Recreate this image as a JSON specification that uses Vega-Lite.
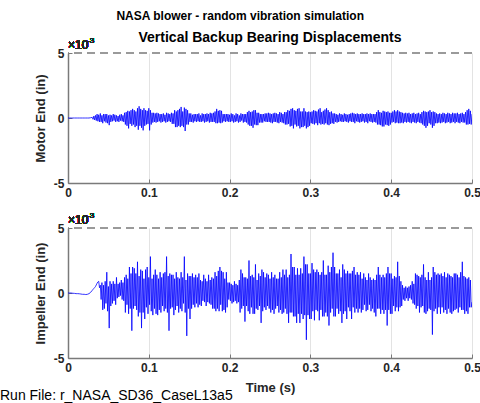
{
"$schema":"https://vega.github.io/schema/vega-lite/v6.json",
"data":{"values":"t,m,i\n0,0,0\n0.002,0,0\n0.004,0,0\n0.006,0,-0.02\n0.008,0,-0.03\n0.010,0,-0.05\n0.012,0,-0.05\n0.014,0,-0.06\n0.016,0,-0.08\n0.018,0,-0.1\n0.020,0,-0.1\n0.022,0,-0.12\n0.024,0,-0.1\n0.026,0,-0.05\n0.028,0.02,0.05\n0.030,0.05,0.2\n0.031,-0.1,0.28\n0.032,0.15,0.35\n0.033,-0.15,0.42\n0.034,0.2,0.5\n0.035,-0.2,0.62\n0.036,0.3,0.75\n0.037,-0.25,0.85\n0.038,0.25,0.9\n0.039,-0.3,0.4\n0.040,0.35,0.6\n0.041,-0.3,-0.5\n0.042,0.2,0.8\n0.043,-0.4,-1.3\n0.044,0.3,0.6\n0.045,-0.25,-1.2\n0.046,0.3,0.9\n0.047,-0.35,-0.8\n0.048,0.3,1.6\n0.049,-0.4,-1.4\n0.050,0.2,0.5\n0.051,-0.55,-2.7\n0.052,0.25,0.9\n0.053,-0.3,-1.0\n0.054,0.2,0.7\n0.055,-0.25,-0.8\n0.056,0.3,0.9\n0.057,-0.2,-0.6\n0.058,0.25,0.7\n0.059,-0.3,-0.9\n0.060,0.2,1.2\n0.061,-0.25,-0.4\n0.062,0.15,0.7\n0.063,-0.3,-0.3\n0.064,0.25,0.8\n0.065,-0.2,-0.2\n0.066,0.3,1.0\n0.067,-0.25,-0.5\n0.068,0.2,0.8\n0.069,-0.3,-0.6\n0.070,0.4,1.2\n0.071,-0.5,-1.5\n0.072,0.45,1.4\n0.073,-0.6,-0.9\n0.074,0.55,1.1\n0.075,-0.8,-1.6\n0.076,0.5,2.0\n0.077,-0.45,-1.2\n0.078,0.6,1.5\n0.079,-0.6,-2.9\n0.080,0.7,2.0\n0.081,-0.5,-1.2\n0.082,0.6,1.9\n0.083,-0.7,-1.0\n0.084,0.5,1.5\n0.085,-0.6,-1.3\n0.086,0.75,2.4\n0.087,-0.9,-1.8\n0.088,0.9,1.3\n0.089,-0.6,-1.5\n0.090,0.7,1.8\n0.091,-0.75,-2.7\n0.092,0.6,1.7\n0.093,-0.95,-1.5\n0.094,0.75,1.1\n0.095,-0.6,-2.0\n0.096,0.6,1.8\n0.097,-0.5,-1.1\n0.098,0.55,2.0\n0.099,-0.45,-1.6\n0.100,0.75,1.2\n0.101,-0.95,-0.9\n0.102,0.6,2.8\n0.103,-0.5,-1.4\n0.104,0.4,1.1\n0.105,-0.35,-1.7\n0.106,0.4,1.4\n0.107,-0.3,-1.2\n0.108,0.35,1.8\n0.109,-0.35,-1.6\n0.110,0.4,1.4\n0.111,-0.3,-1.7\n0.112,0.35,1.1\n0.113,-0.25,-1.3\n0.114,0.3,1.6\n0.115,-0.35,-1.5\n0.116,0.3,1.2\n0.117,-0.3,-1.0\n0.118,0.35,1.5\n0.119,-0.25,-1.4\n0.120,0.25,1.6\n0.121,-0.35,-1.2\n0.122,0.4,2.8\n0.123,-0.3,-1.5\n0.124,0.35,1.3\n0.125,-0.25,-2.9\n0.126,0.3,1.5\n0.127,-0.3,-1.2\n0.128,0.4,1.4\n0.129,-0.45,-1.1\n0.130,0.35,1.4\n0.131,-0.45,-1.7\n0.132,0.6,1.1\n0.133,-0.7,-1.3\n0.134,0.5,1.6\n0.135,-0.7,-1.0\n0.136,0.6,1.2\n0.137,-0.6,-1.5\n0.138,0.7,1.1\n0.139,-0.7,-1.2\n0.140,0.85,1.6\n0.141,-0.6,-1.4\n0.142,0.5,1.2\n0.143,-0.7,-0.8\n0.144,0.8,2.8\n0.145,-1.0,-1.5\n0.146,0.7,1.0\n0.147,-0.5,-3.3\n0.148,0.6,1.5\n0.149,-0.5,-1.2\n0.150,0.35,1.3\n0.151,-0.3,-2.0\n0.152,0.35,1.3\n0.153,-0.3,-1.2\n0.154,0.25,1.5\n0.155,-0.35,-0.9\n0.156,0.3,1.2\n0.157,-0.25,-1.1\n0.158,0.3,1.4\n0.159,-0.3,-0.8\n0.160,0.3,1.2\n0.161,-0.25,-1.1\n0.162,0.35,1.5\n0.163,-0.3,-0.9\n0.164,0.2,1.0\n0.165,-0.3,-1.0\n0.166,0.35,0.9\n0.167,-0.25,-0.6\n0.168,0.3,1.4\n0.169,-0.35,-0.7\n0.170,0.3,1.1\n0.171,-0.3,-1.0\n0.172,0.35,0.9\n0.173,-0.25,-0.7\n0.174,0.3,1.4\n0.175,-0.35,-0.8\n0.176,0.4,1.0\n0.177,-0.3,-0.9\n0.178,0.35,1.2\n0.179,-0.3,-1.2\n0.180,0.4,1.1\n0.181,-0.3,-1.2\n0.182,0.5,1.6\n0.183,-0.4,-1.4\n0.184,0.7,1.3\n0.185,-0.4,-1.2\n0.186,0.55,1.7\n0.187,-0.35,-1.4\n0.188,0.6,2.0\n0.189,-0.4,-0.9\n0.190,0.55,1.7\n0.191,-0.35,-1.4\n0.192,0.3,1.6\n0.193,-0.25,-1.3\n0.194,0.3,1.1\n0.195,-0.3,-1.5\n0.196,0.3,1.6\n0.197,-0.25,-1.1\n0.198,0.3,0.8\n0.199,-0.3,-0.5\n0.200,0.25,0.8\n0.201,-0.3,-0.6\n0.202,0.35,0.7\n0.203,-0.25,-0.8\n0.204,0.3,0.6\n0.205,-0.35,-0.7\n0.206,0.2,0.9\n0.207,-0.3,-0.6\n0.208,0.35,0.7\n0.209,-0.25,-0.8\n0.210,0.3,0.6\n0.211,-0.35,-0.7\n0.212,0.2,1.0\n0.213,-0.3,-1.5\n0.214,0.35,1.8\n0.215,-0.2,-1.2\n0.216,0.3,1.5\n0.217,-0.35,-1.0\n0.218,0.3,1.2\n0.219,-0.3,-2.2\n0.220,0.3,1.2\n0.221,-0.35,-1.0\n0.222,0.45,1.1\n0.223,-0.5,-1.4\n0.224,0.55,2.5\n0.225,-0.6,-1.6\n0.226,0.45,1.3\n0.227,-0.6,-1.1\n0.228,0.5,1.4\n0.229,-0.75,-1.6\n0.230,0.6,1.2\n0.231,-0.5,-1.6\n0.232,0.6,2.2\n0.233,-0.55,-1.2\n0.234,0.4,1.0\n0.235,-0.55,-1.3\n0.236,0.4,1.5\n0.237,-0.35,-1.0\n0.238,0.3,1.3\n0.239,-0.35,-2.3\n0.240,0.3,1.8\n0.241,-0.35,-1.4\n0.242,0.3,1.6\n0.243,-0.25,-1.1\n0.244,0.35,1.2\n0.245,-0.3,-1.3\n0.246,0.35,1.5\n0.247,-0.3,-1.0\n0.248,0.4,1.4\n0.249,-0.3,-1.2\n0.250,0.35,1.1\n0.251,-0.35,-1.5\n0.252,0.3,1.6\n0.253,-0.4,-1.3\n0.254,0.35,1.2\n0.255,-0.3,-1.6\n0.256,0.4,1.4\n0.257,-0.3,-1.2\n0.258,0.35,1.1\n0.259,-0.35,-1.0\n0.260,0.3,1.1\n0.261,-0.4,-1.5\n0.262,0.45,1.6\n0.263,-0.3,-1.3\n0.264,0.4,1.2\n0.265,-0.35,-1.6\n0.266,0.3,1.8\n0.267,-0.4,-1.5\n0.268,0.45,1.4\n0.269,-0.5,-1.2\n0.270,0.45,1.8\n0.271,-0.5,-1.6\n0.272,0.6,1.2\n0.273,-0.45,-2.3\n0.274,0.55,1.4\n0.275,-0.65,-1.5\n0.276,0.7,3.0\n0.277,-0.6,-1.5\n0.278,0.75,2.0\n0.279,-0.8,-1.8\n0.280,0.6,2.0\n0.281,-0.5,-1.8\n0.282,0.55,1.4\n0.283,-0.65,-2.3\n0.284,0.7,1.9\n0.285,-0.6,-1.6\n0.286,0.75,1.4\n0.287,-0.8,-2.3\n0.288,0.5,1.9\n0.289,-0.7,-1.6\n0.290,0.5,1.5\n0.291,-0.7,-2.0\n0.292,0.75,2.8\n0.293,-0.6,-1.7\n0.294,0.5,2.2\n0.295,-0.8,-3.6\n0.296,0.45,2.2\n0.297,-0.7,-1.7\n0.298,0.5,1.5\n0.299,-0.6,-2.0\n0.300,0.45,1.5\n0.301,-0.4,-2.0\n0.302,0.5,2.3\n0.303,-0.45,-1.4\n0.304,0.6,1.8\n0.305,-0.5,-2.1\n0.306,0.55,1.6\n0.307,-0.4,-1.3\n0.308,0.5,1.8\n0.309,-0.55,-1.4\n0.310,0.65,1.6\n0.311,-0.4,-2.1\n0.312,0.75,1.4\n0.313,-0.5,-1.3\n0.314,0.45,1.6\n0.315,-0.45,-1.8\n0.316,0.55,2.5\n0.317,-0.5,-1.8\n0.318,0.65,1.4\n0.319,-0.4,-1.5\n0.320,0.75,1.4\n0.321,-0.5,-1.8\n0.322,0.6,2.1\n0.323,-0.55,-2.5\n0.324,0.45,1.6\n0.325,-0.45,-1.5\n0.326,0.5,2.0\n0.327,-0.4,-1.2\n0.328,0.35,3.1\n0.329,-0.45,-1.8\n0.330,0.35,2.0\n0.331,-0.3,-1.8\n0.332,0.3,1.5\n0.333,-0.35,-1.2\n0.334,0.25,1.5\n0.335,-0.3,-1.6\n0.336,0.35,1.8\n0.337,-0.25,-1.4\n0.338,0.3,1.2\n0.339,-0.3,-2.3\n0.340,0.25,2.2\n0.341,-0.3,-1.6\n0.342,0.35,1.8\n0.343,-0.25,-1.4\n0.344,0.3,1.5\n0.345,-0.3,-2.0\n0.346,0.25,1.7\n0.347,-0.35,-1.1\n0.348,0.3,1.5\n0.349,-0.25,-1.4\n0.350,0.35,1.5\n0.351,-0.3,-2.0\n0.352,0.4,1.7\n0.353,-0.3,-1.1\n0.354,0.35,2.0\n0.355,-0.4,-1.5\n0.356,0.3,1.4\n0.357,-0.25,-1.2\n0.358,0.35,1.6\n0.359,-0.3,-1.5\n0.360,0.3,1.4\n0.361,-0.35,-1.2\n0.362,0.3,1.6\n0.363,-0.3,-1.5\n0.364,0.35,1.1\n0.365,-0.25,-1.3\n0.366,0.3,1.5\n0.367,-0.35,-0.9\n0.368,0.3,1.2\n0.369,-0.3,-1.4\n0.370,0.35,1.0\n0.371,-0.4,-1.3\n0.372,0.3,1.5\n0.373,-0.25,-0.9\n0.374,0.35,1.2\n0.375,-0.3,-1.4\n0.376,0.3,1.0\n0.377,-0.35,-1.2\n0.378,0.3,1.1\n0.379,-0.3,-1.5\n0.380,0.3,1.0\n0.381,-0.35,-1.8\n0.382,0.45,1.4\n0.383,-0.5,-1.2\n0.384,0.6,2.0\n0.385,-0.5,-1.2\n0.386,0.45,1.4\n0.387,-0.55,-1.6\n0.388,0.4,1.2\n0.389,-0.65,-1.3\n0.390,0.55,1.4\n0.391,-0.65,-1.6\n0.392,0.5,1.2\n0.393,-0.5,-1.3\n0.394,0.45,1.5\n0.395,-0.55,-2.5\n0.396,0.5,2.0\n0.397,-0.6,-1.3\n0.398,0.4,1.5\n0.399,-0.5,-1.6\n0.400,0.4,1.5\n0.401,-0.35,-1.6\n0.402,0.5,1.1\n0.403,-0.3,-1.0\n0.404,0.6,1.3\n0.405,-0.4,-1.4\n0.406,0.5,1.2\n0.407,-0.35,-1.1\n0.408,0.6,2.4\n0.409,-0.4,-1.4\n0.410,0.5,1.3\n0.411,-0.4,-1.1\n0.412,0.45,0.9\n0.413,-0.35,-1.0\n0.414,0.4,0.6\n0.415,-0.4,-0.5\n0.416,0.35,0.4\n0.417,-0.3,-0.6\n0.418,0.4,0.5\n0.419,-0.35,-0.4\n0.420,0.35,0.4\n0.421,-0.3,-0.6\n0.422,0.4,0.5\n0.423,-0.35,-0.4\n0.424,0.3,0.6\n0.425,-0.4,-0.5\n0.426,0.35,0.9\n0.427,-0.3,-0.8\n0.428,0.4,0.7\n0.429,-0.35,-0.9\n0.430,0.3,1.5\n0.431,-0.4,-1.2\n0.432,0.35,1.4\n0.433,-0.3,-1.0\n0.434,0.4,1.3\n0.435,-0.35,-1.5\n0.436,0.3,1.2\n0.437,-0.4,-1.1\n0.438,0.45,1.4\n0.439,-0.5,-1.0\n0.440,0.55,2.2\n0.441,-0.6,-1.5\n0.442,0.5,1.2\n0.443,-0.75,-1.6\n0.444,0.45,1.0\n0.445,-0.6,-1.4\n0.446,0.5,1.6\n0.447,-0.4,-1.2\n0.448,0.6,1.0\n0.449,-0.5,-1.3\n0.450,0.45,1.2\n0.451,-0.75,-3.2\n0.452,0.5,2.0\n0.453,-0.6,-1.4\n0.454,0.45,1.6\n0.455,-0.4,-1.2\n0.456,0.35,1.4\n0.457,-0.4,-1.6\n0.458,0.3,1.5\n0.459,-0.35,-1.1\n0.460,0.35,1.4\n0.461,-0.4,-1.6\n0.462,0.3,1.5\n0.463,-0.35,-1.1\n0.464,0.4,1.3\n0.465,-0.3,-1.5\n0.466,0.35,1.6\n0.467,-0.4,-1.3\n0.468,0.3,1.2\n0.469,-0.35,-1.6\n0.470,0.4,1.5\n0.471,-0.3,-1.2\n0.472,0.35,1.4\n0.473,-0.4,-1.5\n0.474,0.3,1.3\n0.475,-0.35,-1.6\n0.476,0.4,1.2\n0.477,-0.3,-1.4\n0.478,0.35,1.5\n0.479,-0.4,-1.3\n0.480,0.35,1.5\n0.481,-0.3,-1.2\n0.482,0.4,1.4\n0.483,-0.35,-1.5\n0.484,0.3,1.2\n0.485,-0.4,-1.1\n0.486,0.35,1.6\n0.487,-0.3,-1.3\n0.488,0.4,2.4\n0.489,-0.35,-1.3\n0.490,0.3,1.3\n0.491,-0.35,-1.6\n0.492,0.45,1.2\n0.493,-0.5,-1.4\n0.494,0.6,1.1\n0.495,-0.5,-1.6\n0.496,0.7,1.2\n0.497,-0.45,-1.1\n0.498,0.55,1.0\n0.499,-0.5,-1.1\n0.500,0.3,-0.7","format":{"type":"csv","parse":{"t":"number","m":"number","i":"number"}}},
"title":{"text":"NASA blower - random vibration simulation","fontSize":12,"fontWeight":"bold","font":"Liberation Sans","color":"#000000","anchor":"middle","offset":8},
"padding":{"left":0,"top":10,"right":8,"bottom":0},
"spacing":14,
"config":{"font":"Liberation Sans","view":{"stroke":null},
"axis":{"labelFont":"Liberation Sans","labelFontSize":12,"labelFontWeight":"bold","labelColor":"#262626","titleFont":"Liberation Sans","titleFontSize":13,"titleFontWeight":"bold","titleColor":"#262626","domainColor":"#7a7a7a","domainWidth":1.5,"tickColor":"#7a7a7a","tickSize":-4,"grid":false},
"axisX":{"grid":true,"gridColor":"#e3e3e3","labelPadding":8,"labelFlush":false,"titlePadding":8},
"axisY":{"labelPadding":8,"titlePadding":6}},
"vconcat":[
{"width":404,"height":130,
"title":{"text":"Vertical Backup Bearing Displacements","fontSize":14,"fontWeight":"bold","font":"Liberation Sans","color":"#000000","frame":"group","anchor":"middle","offset":-8},
"layer":[
{"data":{"values":[{"v":5}]},"mark":{"type":"rule","color":"#7a7a7a","strokeDash":[8,5],"strokeWidth":1.5},"encoding":{"y":{"field":"v","type":"quantitative"}}},
{"mark":{"type":"line","color":"#0000ff","strokeWidth":0.8,"clip":true},"encoding":{"x":{"field":"t","type":"quantitative","scale":{"domain":[0,0.5],"nice":false},"axis":{"title":null,"values":[0,0.1,0.2,0.3,0.4,0.5],"labelExpr":"'' + datum.value"}},"y":{"field":"m","type":"quantitative","scale":{"domain":[-5,5],"nice":false},"axis":{"title":"Motor End (in)","values":[-5,0,5],"labelExpr":"'' + datum.value"}}}},
{"mark":{"type":"text","align":"left","baseline":"alphabetic","dx":0,"dy":-4,"fontSize":12,"color":"#262626","font":"Liberation Sans"},"encoding":{"x":{"datum":0},"y":{"datum":5},"text":{"value":"×10"}}},
{"mark":{"type":"text","align":"left","baseline":"alphabetic","dx":19,"dy":-10,"fontSize":8,"color":"#262626","font":"Liberation Sans"},"encoding":{"x":{"datum":0},"y":{"datum":5},"text":{"value":"-3"}}}
]},
{"width":404,"height":130,
"title":{"text":"Run File: r_NASA_SD36_CaseL13a5","orient":"bottom","anchor":"start","frame":"group","fontSize":14,"fontWeight":"normal","font":"Liberation Sans","color":"#000000","dx":-68,"offset":-5},
"layer":[
{"data":{"values":[{"v":5}]},"mark":{"type":"rule","color":"#7a7a7a","strokeDash":[8,5],"strokeWidth":1.5},"encoding":{"y":{"field":"v","type":"quantitative"}}},
{"mark":{"type":"line","color":"#0000ff","strokeWidth":0.8,"clip":true},"encoding":{"x":{"field":"t","type":"quantitative","scale":{"domain":[0,0.5],"nice":false},"axis":{"title":"Time (s)","values":[0,0.1,0.2,0.3,0.4,0.5],"labelExpr":"'' + datum.value"}},"y":{"field":"i","type":"quantitative","scale":{"domain":[-5,5],"nice":false},"axis":{"title":"Impeller End (in)","values":[-5,0,5],"labelExpr":"'' + datum.value"}}}},
{"mark":{"type":"text","align":"left","baseline":"alphabetic","dx":0,"dy":-4,"fontSize":12,"color":"#262626","font":"Liberation Sans"},"encoding":{"x":{"datum":0},"y":{"datum":5},"text":{"value":"×10"}}},
{"mark":{"type":"text","align":"left","baseline":"alphabetic","dx":19,"dy":-10,"fontSize":8,"color":"#262626","font":"Liberation Sans"},"encoding":{"x":{"datum":0},"y":{"datum":5},"text":{"value":"-3"}}}
]}
]
}
